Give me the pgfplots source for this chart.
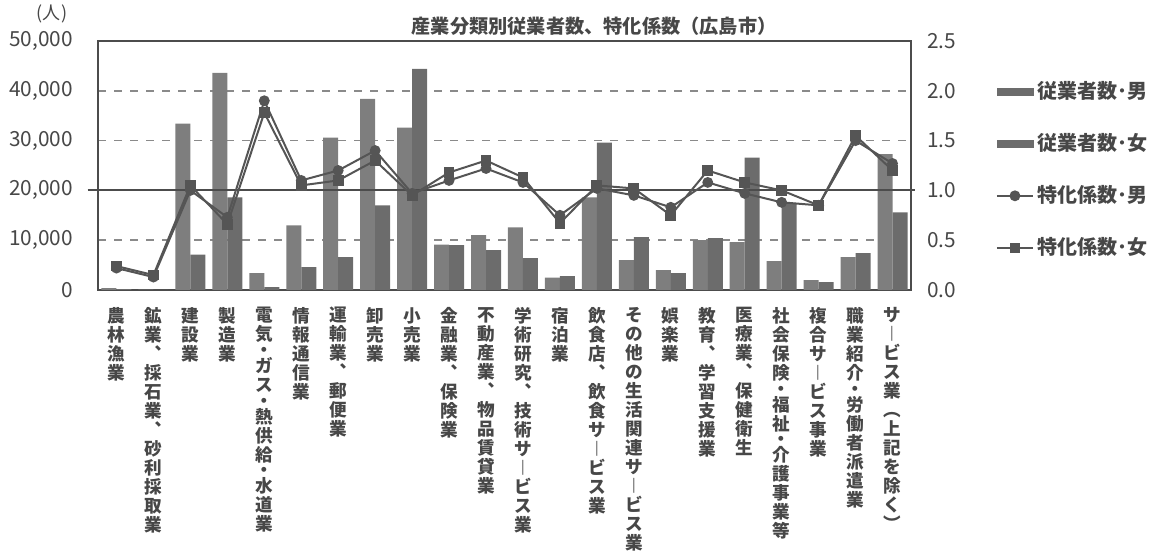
\documentclass[border=0pt]{standalone}
\usepackage{pgfplots}
\usepackage{pgfplotstable}
\pgfplotsset{compat=1.18}
\usepackage{fontspec}
\setmainfont{Noto Sans CJK JP}
\definecolor{mbar}{HTML}{7E7E7E}
\definecolor{fbar}{HTML}{6C6C6C}
\definecolor{ln}{HTML}{555555}
\definecolor{txt}{HTML}{474747}
\definecolor{grd}{HTML}{8A8A8A}
\pgfplotsset{
  linelegend/.style={legend image code/.code={\draw[mark repeat=2,mark phase=2,##1] plot coordinates {(0pt,0pt)(9pt,0pt)(18pt,0pt)};}},
  barlegend/.style={legend image code/.code={\fill[fbar] (0pt,-1.8pt) rectangle (18pt,1.8pt);}},
}
\newcommand{\hd}{\\[-1.6pt]・\\[-1.6pt]}

\pgfplotstableread{
x m f sm sf
0 400 200 0.22 0.24
1 100 50 0.13 0.15
2 33400 7100 1.00 1.05
3 43600 18600 0.73 0.66
4 3400 600 1.90 1.78
5 13000 4600 1.10 1.05
6 30600 6600 1.20 1.10
7 38400 17000 1.40 1.30
8 32600 44400 0.97 0.95
9 9100 9000 1.10 1.18
10 11000 8000 1.22 1.30
11 12600 6400 1.08 1.13
12 2500 2800 0.75 0.67
13 18600 29600 1.02 1.05
14 6000 10600 0.95 1.02
15 4000 3400 0.83 0.75
16 10000 10400 1.08 1.20
17 9600 26600 0.97 1.08
18 5800 17500 0.88 1.00
19 2000 1600 0.85 0.85
20 6600 7400 1.50 1.55
21 27300 15600 1.27 1.20
}\data

\begin{document}
\begin{tikzpicture}[every node/.style={text=txt}]
\path[use as bounding box] (0,0) rectangle (578pt,278pt);
\begin{axis}[
  at={(49pt,133pt)}, anchor=south west,
  scale only axis, width=406.5pt, height=124.5pt,
  xmin=-0.5, xmax=21.5, ymin=0, ymax=50000,
  ybar=0pt, bar width=7.5pt,
  xtick={0,...,21},
  xticklabels={
    {農\\林\\漁\\業},
    {鉱\\業\\︑\\採\\石\\業\\︑\\砂\\利\\採\\取\\業},
    {建\\設\\業},
    {製\\造\\業},
    {電\\気\hd ガ\\ス\hd 熱\\供\\給\hd 水\\道\\業},
    {情\\報\\通\\信\\業},
    {運\\輸\\業\\︑\\郵\\便\\業},
    {卸\\売\\業},
    {小\\売\\業},
    {金\\融\\業\\︑\\保\\険\\業},
    {不\\動\\産\\業\\︑\\物\\品\\賃\\貸\\業},
    {学\\術\\研\\究\\︑\\技\\術\\サ\\︱\\ビ\\ス\\業},
    {宿\\泊\\業},
    {飲\\食\\店\\︑\\飲\\食\\サ\\︱\\ビ\\ス\\業},
    {そ\\の\\他\\の\\生\\活\\関\\連\\サ\\︱\\ビ\\ス\\業},
    {娯\\楽\\業},
    {教\\育\\︑\\学\\習\\支\\援\\業},
    {医\\療\\業\\︑\\保\\健\\衛\\生},
    {社\\会\\保\\険\hd 福\\祉\hd 介\\護\\事\\業\\等},
    {複\\合\\サ\\︱\\ビ\\ス\\事\\業},
    {職\\業\\紹\\介\hd 労\\働\\者\\派\\遣\\業},
    {サ\\︱\\ビ\\ス\\業\\︵\\上\\記\\を\\除\\く\\︶}
  },
  xticklabel style={anchor=north, align=center, inner sep=0pt, yshift=-8.5pt,
    font=\fontsize{8.8}{9.5}\selectfont\bfseries},
  major tick length=0pt,
  ytick={0,10000,20000,30000,40000,50000},
  scaled y ticks=false,
  /pgf/number format/1000 sep={,},
  /pgf/number format/assume math mode=true,
  yticklabel style={font=\fontsize{10.4}{12}\selectfont, anchor=east, xshift=-9pt},
  ymajorgrids,
  grid style={grd, line width=0.8pt, dash pattern=on 4pt off 4pt},
  axis line style={black!70, line width=0.8pt},
]
\addplot[fill=mbar, draw=none] table[x=x,y=m]{\data};
\addplot[fill=fbar, draw=none] table[x=x,y=f]{\data};
\end{axis}
\begin{axis}[
  at={(49pt,133pt)}, anchor=south west,
  scale only axis, width=406.5pt, height=124.5pt,
  xmin=-0.5, xmax=21.5, ymin=0, ymax=2.5,
  axis x line=none, axis y line*=right,
  ytick={0,0.5,1,1.5,2,2.5},
  /pgf/number format/fixed,
  /pgf/number format/fixed zerofill,
  /pgf/number format/precision=1,
  /pgf/number format/assume math mode=true,
  yticklabel style={font=\fontsize{10.4}{12}\selectfont, anchor=west, xshift=4.5pt},
  major tick length=0pt,
  axis line style={black!70, line width=0.8pt},
  clip=false,
  legend style={at={(1.104,0.855)}, anchor=north west, draw=none, fill=none,
    inner sep=0pt, row sep=12pt,
    font=\fontsize{10}{12}\selectfont\bfseries, text=txt},
  legend cell align=left,
]
\addlegendimage{barlegend}
\addlegendentry{従業者数･男}
\addlegendimage{barlegend}
\addlegendentry{従業者数･女}
\draw[black!70, line width=1.1pt] (axis cs:-0.78,1) -- (axis cs:21.6,1);
\addplot[ln, line width=1pt, mark=*, mark size=2.2pt, mark options={fill=ln}, linelegend]
  table[x=x,y=sm]{\data};
\addlegendentry{特化係数･男}
\addplot[ln, line width=1pt, mark=square*, mark size=2.2pt, mark options={fill=ln}, linelegend]
  table[x=x,y=sf]{\data};
\addlegendentry{特化係数･女}
\end{axis}
\node[font=\fontsize{9.6}{11}\selectfont\bfseries] at (297pt,265pt) {産業分類別従業者数、特化係数（広島市）};
\node[font=\fontsize{9}{10}\selectfont, inner sep=0pt] at (26pt,271pt) {(人)};
\end{tikzpicture}
\end{document}
